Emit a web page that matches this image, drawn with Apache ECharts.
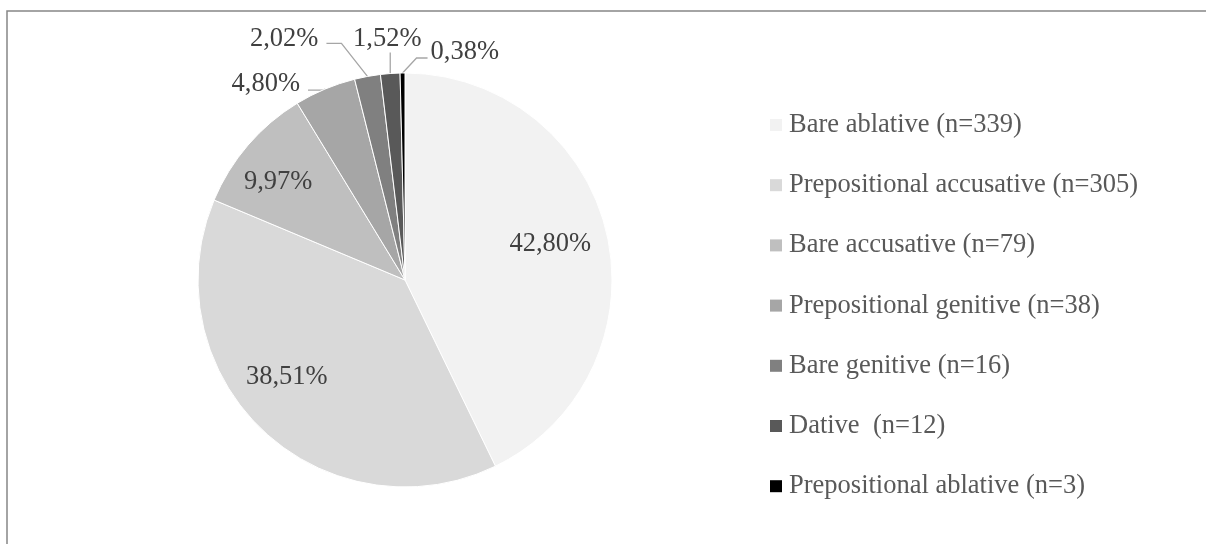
<!DOCTYPE html>
<html>
<head>
<meta charset="utf-8">
<script src="https://cdn.jsdelivr.net/npm/echarts@6/dist/echarts.min.js"></script>
<style>
    html, body { margin: 0; padding: 0; background: #fff; }
    #chart { width: 1206px; height: 544px; }
</style>
</head>
<body>
<div id="chart"></div>
<script>
    var categories = [
        'Bare ablative (n=339)',
        'Prepositional accusative (n=305)',
        'Bare accusative (n=79)',
        'Prepositional genitive (n=38)',
        'Bare genitive (n=16)',
        'Dative  (n=12)',
        'Prepositional ablative (n=3)'
    ];
    var counts = [339, 305, 79, 38, 16, 12, 3];

    var sliceColors = ['#f2f2f2', '#d9d9d9', '#bfbfbf', '#a6a6a6', '#808080', '#595959', '#000000'];
    var font = 'Liberation Serif';
    var cx = 405, cy = 280, r = 207;

    // label spot per slice: [radius factor, dx, dy, align]
    var labelPlace = [
        [0.72, 0, -3, 'center'],
        [0.74, -13, -14, 'center'],
        [0.77, -6, 6, 'center'],
        [1, -25, -5, 'right'],
        [1, -49, -37, 'right'],
        [1, -3, -34, 'center'],
        [1, 28, -21, 'left']
    ];
    // leader line [elbow dx, dy, end dx, dy] from the slice edge
    var leader = [null, null, null, [-2, 1, -17, 1], [-26, -33, -41, -33], [0, -21, 0, -21], [14, -15, 25, -15]];

    var total = counts.reduce(function (s, v) { return s + v; }, 0);
    var midAngle = [];
    var acc = 0;
    counts.forEach(function (v) {
        midAngle.push((acc + v / 2) / total * Math.PI * 2);
        acc += v;
    });

    var chart = echarts.init(document.getElementById('chart'));

    var option = {
        animation: false,
        graphic: [{
            type: 'rect',
            shape: { x: 7, y: 11, width: 1300, height: 700 },
            style: { fill: 'none', stroke: '#868686', lineWidth: 1.5 },
            silent: true
        }],
        legend: {
            orient: 'vertical',
            left: 770,
            top: 111.5,
            padding: 0,
            icon: 'rect',
            itemWidth: 12,
            itemHeight: 12,
            itemGap: 33.2,
            itemStyle: { borderWidth: 0 },
            textStyle: {
                fontFamily: font,
                fontSize: 26.5,
                lineHeight: 26.5,
                color: '#595959',
                padding: [0, 0, 0, 2]
            },
            data: categories
        },
        series: [{
            type: 'pie',
            center: [cx, cy],
            radius: r,
            startAngle: 90,
            clockwise: true,
            avoidLabelOverlap: false,
            silent: true,
            itemStyle: { borderColor: '#fff', borderWidth: 1 },
            label: {
                show: true,
                position: 'outside',
                fontFamily: font,
                fontSize: 26.5,
                color: '#404040',
                formatter: function (p) {
                    return (p.value / total * 100).toFixed(2).replace('.', ',') + '%';
                }
            },
            labelLine: {
                show: true,
                length: 10,
                length2: 10,
                lineStyle: { color: '#a6a6a6', width: 1.3 }
            },
            labelLayout: function (params) {
                var i = params.dataIndex;
                var p = labelPlace[i];
                var a = midAngle[i];
                var sx = Math.sin(a), sy = -Math.cos(a);
                var res = {
                    x: cx + p[0] * r * sx + p[1],
                    y: cy + p[0] * r * sy + p[2],
                    align: p[3],
                    verticalAlign: 'middle'
                };
                var l = leader[i];
                if (l) {
                    var ex = cx + r * sx, ey = cy + r * sy;
                    res.labelLinePoints = [[ex, ey], [ex + l[0], ey + l[1]], [ex + l[2], ey + l[3]]];
                }
                return res;
            },
            data: categories.map(function (name, i) {
                return {
                    name: name,
                    value: counts[i],
                    itemStyle: { color: sliceColors[i] },
                    labelLine: { show: leader[i] != null }
                };
            })
        }]
    };

    chart.setOption(option);
</script>
</body>
</html>
